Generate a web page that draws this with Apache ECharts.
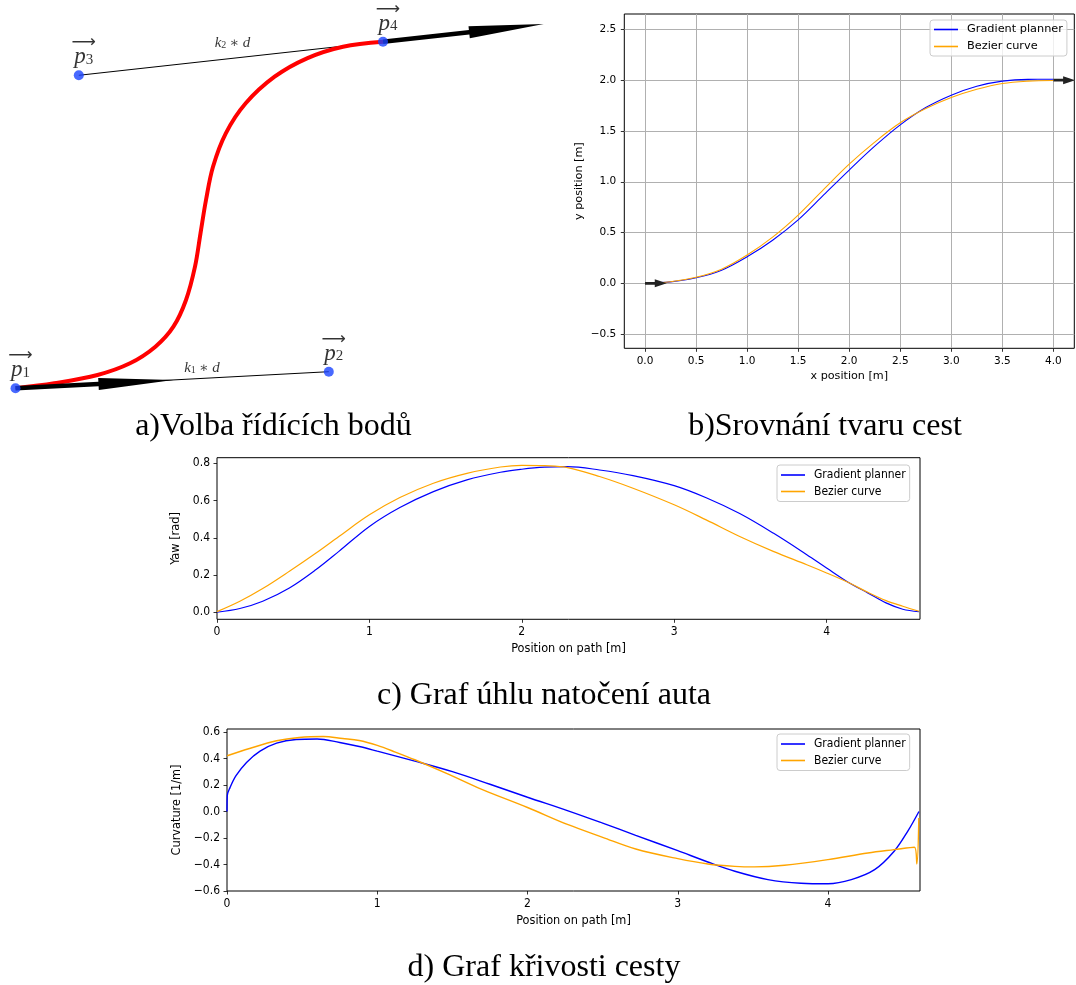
<!DOCTYPE html>
<html>
<head>
<meta charset="utf-8">
<script src="https://cdn.jsdelivr.net/npm/echarts@6/dist/echarts.min.js"></script>
<style>
  html, body { margin: 0; background: #fff; }
  #chart { width: 1076px; height: 985px; }
</style>
</head>
<body>
<div id="chart"></div>
<script>
// a) control points p1..p4 (diagram units) and the Bezier path through them
const controlPoints = [[0, 0], [3.133, 0.166], [0.633, 3.13], [3.675, 3.466]];
const controlNames = ["1", "2", "3", "4"];
const bezierPathA = [
  [0, 0], [0.387, 0.05], [0.82, 0.133], [1.145, 0.25], [1.399, 0.416], [1.579, 0.616],
  [1.705, 0.883], [1.795, 1.216], [1.85, 1.55], [1.905, 1.883], [1.975, 2.216],
  [2.103, 2.55], [2.302, 2.85], [2.591, 3.116], [2.915, 3.3], [3.275, 3.416], [3.675, 3.466],
];
const directionArrowsA = [[0, 0, 1.579, 0.083], [3.675, 3.466, 5.282, 3.643]];
const segmentLabelsA = [[1.865, 0.203, "1"], [2.17, 3.453, "2"]];

// b) path shape comparison
const bX = [0, 0.25, 0.5, 0.75, 1.0, 1.25, 1.5, 1.75, 2.0, 2.25, 2.5, 2.75, 3.0, 3.25, 3.5, 3.75, 4.0];
const bGradientY = [0, 0.015, 0.055, 0.13, 0.262, 0.425, 0.625, 0.87, 1.115, 1.35, 1.56, 1.73, 1.852, 1.94, 1.99, 2.008, 2.009];
const bBezierY = [0, 0.016, 0.06, 0.14, 0.279, 0.455, 0.672, 0.925, 1.173, 1.39, 1.58, 1.72, 1.829, 1.91, 1.967, 1.99, 1.996];
const bArrows = [[0, 0, 0.213, 0], [4.0, 2.0, 4.213, 2.0]];
const bXTicks = [0, 0.5, 1.0, 1.5, 2.0, 2.5, 3.0, 3.5, 4.0];
const bYTicks = [-0.5, 0, 0.5, 1.0, 1.5, 2.0, 2.5];

// c) yaw along the path
const cX = [0, 0.15, 0.3, 0.475, 0.65, 0.8, 1.0, 1.2, 1.42, 1.64, 1.86, 2.0, 2.15, 2.3,
  2.51, 2.73, 3.0, 3.21, 3.43, 3.65, 3.87, 4.0, 4.15, 4.27, 4.39, 4.5, 4.606];
const cGradient = [0, 0.02, 0.059, 0.13, 0.229, 0.327, 0.461, 0.5625, 0.648, 0.711, 0.752, 0.768, 0.779, 0.782,
  0.764, 0.734, 0.68, 0.615, 0.53, 0.425, 0.309, 0.2375, 0.157, 0.104, 0.05, 0.016, 0.003];
const cBezier = [0.003, 0.059, 0.127, 0.22, 0.318, 0.407, 0.523, 0.616, 0.693, 0.746, 0.78, 0.789, 0.787, 0.777,
  0.729, 0.666, 0.577, 0.496, 0.407, 0.327, 0.255, 0.211, 0.157, 0.107, 0.0625, 0.032, 0.005];
const cXTicks = [0, 1, 2, 3, 4];
const cYTicks = [0, 0.2, 0.4, 0.6, 0.8];

// d) curvature along the path
const dGradientX = [0, 0.002, 0.02, 0.06, 0.13, 0.22, 0.33, 0.46, 0.6, 0.75, 0.88, 1.0, 1.25, 1.5, 1.75, 2.0,
  2.27, 2.5, 2.72, 3.0, 3.2, 3.38, 3.6, 3.82, 4.0, 4.155, 4.31, 4.44, 4.53, 4.605];
const dGradientY = [0, 0.12, 0.18, 0.27, 0.37, 0.455, 0.515, 0.543, 0.547, 0.52, 0.49, 0.455, 0.38, 0.3, 0.205, 0.107,
  0.005, -0.088, -0.18, -0.296, -0.381, -0.451, -0.514, -0.541, -0.545, -0.514, -0.439, -0.3, -0.15, 0.0];
const dBezierX = [0.001, 0.15, 0.33, 0.48, 0.64, 0.77, 0.88, 1.0, 1.12, 1.25, 1.48, 1.7, 2.0, 2.27, 2.5,
  2.72, 3.0, 3.2, 3.38, 3.51, 3.71, 4.0, 4.265, 4.44, 4.575, 4.591, 4.604];
const dBezierY = [0.42, 0.475, 0.533, 0.558, 0.565, 0.55, 0.535, 0.498, 0.448, 0.39, 0.278, 0.165, 0.03, -0.1, -0.195,
  -0.283, -0.356, -0.396, -0.414, -0.418, -0.406, -0.363, -0.313, -0.288, -0.27, -0.396, -0.05];
const dXTicks = [0, 1, 2, 3, 4];
const dYTicks = [-0.6, -0.4, -0.2, 0, 0.2, 0.4, 0.6];

const seriesNames = ["Gradient planner", "Bezier curve"];
const captions = ["a)Volba řídících bodů", "b)Srovnání tvaru cest", "c) Graf úhlu natočení auta", "d) Graf křivosti cesty"];

const BLUE = "#0000ff";
const ORANGE = "#ffa500";
const SANS = "DejaVu Sans";
const COND = '"DejaVu Sans Condensed", "Liberation Sans Narrow", "DejaVu Sans"';
const SERIF = '"Liberation Serif", "DejaVu Serif", serif';

const fmt = (digits) => (v) => (v < 0 ? "\u2212" : "") + Math.abs(v).toFixed(digits);
const pairs = (xs, ys) => xs.map((x, i) => [x, ys[i]]);

function plotAxis(idx, min, max, ticks, digits, font, size, name, nameSize, nameGap, split, margin) {
  return {
    type: "value", gridIndex: idx, min, max,
    name, nameLocation: "middle", nameGap,
    nameTextStyle: { fontFamily: font, fontSize: nameSize, color: "#000" },
    axisLine: { show: false, onZero: false },
    axisTick: { show: true, length: 3.5, customValues: ticks, lineStyle: { color: "#000", width: 0.8 } },
    axisLabel: { customValues: ticks, formatter: fmt(digits), fontFamily: font, fontSize: size, color: "#000", margin },
    splitLine: { show: split, lineStyle: { color: "#b0b0b0", width: 1 } },
  };
}
function hiddenAxis(min, max) {
  return { type: "value", gridIndex: 0, min, max, show: false, splitLine: { show: false } };
}

function lineSeries(name, idx, data, color, width) {
  return {
    type: "line", name, xAxisIndex: idx, yAxisIndex: idx, data,
    showSymbol: false, smooth: 0.35, silent: true, z: 3,
    lineStyle: { color, width }, itemStyle: { color },
  };
}

function arrowSeries(idx, data, shaft, headLen, headHalf, color) {
  return {
    type: "custom", xAxisIndex: idx, yAxisIndex: idx, data, silent: true, z: 5,
    encode: { x: [0, 2], y: [1, 3] },
    renderItem: (params, api) => {
      const s = api.coord([api.value(0), api.value(1)]);
      const e = api.coord([api.value(2), api.value(3)]);
      const dx = e[0] - s[0], dy = e[1] - s[1];
      const len = Math.hypot(dx, dy);
      const ux = dx / len, uy = dy / len, nx = -uy, ny = ux;
      const bx = e[0] - ux * headLen, by = e[1] - uy * headLen;
      return {
        type: "polygon",
        shape: { points: [
          [s[0] + nx * shaft, s[1] + ny * shaft], [bx + nx * shaft, by + ny * shaft],
          [bx + nx * headHalf, by + ny * headHalf], e,
          [bx - nx * headHalf, by - ny * headHalf], [bx - nx * shaft, by - ny * shaft],
          [s[0] - nx * shaft, s[1] - ny * shaft],
        ] },
        style: { fill: color },
      };
    },
  };
}

function legendBox(left, top, font, size, lineHeight, gap) {
  return {
    left, top, orient: "vertical", data: seriesNames, selectedMode: false,
    icon: "rect", itemWidth: 24, itemHeight: 1.6, itemGap: gap,
    padding: [3, 4, 3, 4],
    borderColor: "#cccccc", borderWidth: 1, borderRadius: 3,
    backgroundColor: "rgba(255,255,255,0.8)",
    textStyle: { fontFamily: font, fontSize: size, color: "#000", lineHeight, padding: [0, 0, 0, 4] },
  };
}

const chart = echarts.init(document.getElementById("chart"));
chart.setOption({
  animation: false,
  backgroundColor: "#fff",
  title: captions.map((text, i) => ({
    text,
    left: [268.5, 820, 539, 539][i],
    top: [406, 406, 675, 947][i],
    textAlign: "center",
    textStyle: { fontFamily: SERIF, fontSize: 32, fontWeight: "normal", color: "#000" },
  })),
  legend: [
    legendBox(930, 20, SANS, 11.3, 13, 4),
    legendBox(777, 465, COND, 12, 14, 2.5),
    legendBox(777, 734, COND, 12, 14, 2.5),
  ],
  grid: [
    { left: 5.5, top: 18.3, width: 550, height: 380 },
    { left: 624.3, top: 14, width: 450, height: 334.3, show: true, borderColor: "#000", borderWidth: 1 },
    { left: 217, top: 457.7, width: 703, height: 161.6, show: true, borderColor: "#000", borderWidth: 1 },
    { left: 227, top: 729, width: 693, height: 162, show: true, borderColor: "#000", borderWidth: 1 },
  ],
  xAxis: [
    hiddenAxis(-0.1, 5.4),
    plotAxis(1, -0.203, 4.205, bXTicks, 1, SANS, 10.5, "x position [m]", 11.2, 22, true, 7),
    plotAxis(2, 0, 4.613, cXTicks, 0, COND, 12, "Position on path [m]", 12.6, 23, false, 7),
    plotAxis(3, 0, 4.612, dXTicks, 0, COND, 12, "Position on path [m]", 12.6, 23, false, 7),
  ],
  yAxis: [
    hiddenAxis(-0.1, 3.7),
    plotAxis(1, -0.639, 2.651, bYTicks, 1, SANS, 10.5, "y position [m]", 11.2, 40, true, 8),
    plotAxis(2, -0.038, 0.830, cYTicks, 1, COND, 12, "Yaw [rad]", 12.6, 30, false, 7),
    plotAxis(3, -0.6, 0.622, dYTicks, 1, COND, 12, "Curvature [1/m]", 12.6, 40, false, 7),
  ],
  series: [
    // a) diagram
    { type: "line", xAxisIndex: 0, yAxisIndex: 0, data: [controlPoints[0], controlPoints[1]],
      showSymbol: false, silent: true, z: 1, lineStyle: { color: "#000", width: 1 } },
    { type: "line", xAxisIndex: 0, yAxisIndex: 0, data: [controlPoints[2], controlPoints[3]],
      showSymbol: false, silent: true, z: 1, lineStyle: { color: "#000", width: 1 } },
    { type: "line", xAxisIndex: 0, yAxisIndex: 0, data: bezierPathA, showSymbol: false, smooth: 0.35,
      silent: true, z: 2, lineStyle: { color: "#ff0000", width: 4 } },
    arrowSeries(0, directionArrowsA, 2.2, 75, 6, "#000"),
    { type: "scatter", xAxisIndex: 0, yAxisIndex: 0, silent: true, z: 6,
      data: controlPoints.map((p, i) => ({ value: p, name: controlNames[i] })),
      symbolSize: 10, itemStyle: { color: "#1a44ff" },
      label: {
        show: true, position: "top", distance: 3, offset: [5, 0], color: "#000",
        formatter: (p) => `{ar|\u27F6}\n{p|p}{s|${p.name}}`,
        rich: {
          ar: { fontFamily: "DejaVu Sans", fontSize: 17, lineHeight: 9, align: "center" },
          p: { fontFamily: SERIF, fontStyle: "italic", fontSize: 23, lineHeight: 20 },
          s: { fontFamily: SERIF, fontSize: 15, lineHeight: 9, verticalAlign: "bottom" },
        },
      } },
    { type: "scatter", xAxisIndex: 0, yAxisIndex: 0, silent: true, z: 6, symbolSize: 0,
      data: segmentLabelsA.map((d) => ({ value: [d[0], d[1]], name: d[2] })),
      label: {
        show: true, position: "inside", color: "#000",
        formatter: (p) => `{k|k}{s|${p.name}}{m| \u2217 }{k|d}`,
        rich: {
          k: { fontFamily: SERIF, fontStyle: "italic", fontSize: 15 },
          s: { fontFamily: SERIF, fontSize: 10, verticalAlign: "bottom" },
          m: { fontFamily: SERIF, fontSize: 14 },
        },
      } },
    // b) path shapes
    lineSeries(seriesNames[0], 1, pairs(bX, bGradientY), BLUE, 1.1),
    lineSeries(seriesNames[1], 1, pairs(bX, bBezierY), ORANGE, 1.1),
    arrowSeries(1, bArrows, 1.4, 12, 4, "#222"),
    // c) yaw
    lineSeries(seriesNames[0], 2, pairs(cX, cGradient), BLUE, 1.2),
    lineSeries(seriesNames[1], 2, pairs(cX, cBezier), ORANGE, 1.2),
    // d) curvature
    lineSeries(seriesNames[0], 3, pairs(dGradientX, dGradientY), BLUE, 1.4),
    lineSeries(seriesNames[1], 3, pairs(dBezierX, dBezierY), ORANGE, 1.4),
  ],
});
</script>
</body>
</html>
